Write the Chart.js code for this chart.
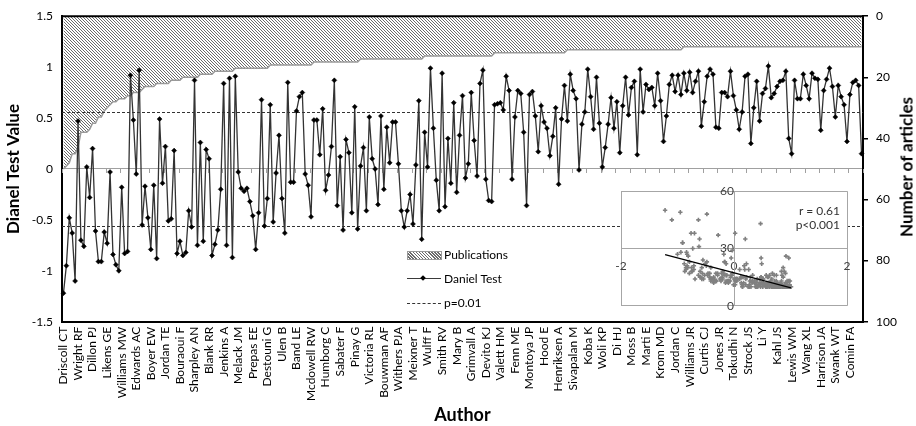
<!DOCTYPE html>
<html>
<head>
<meta charset="utf-8">
<script src="https://cdn.jsdelivr.net/npm/chart.js@4.4.0/dist/chart.umd.min.js"></script>
<style>
  html, body { margin: 0; padding: 0; background: #fff; }
  #wrap { position: relative; width: 916px; height: 426px; font-family: Lato, 'Open Sans', sans-serif; color: #000; }
  #mainChart { position: absolute; left: 0; top: 0; }
  #insetChart { position: absolute; left: 611px; top: 174px; }
  .txt { position: absolute; font-size: 12px; line-height: 14px; white-space: nowrap; }
  .sym { position: absolute; }
  #rightTitle { position: absolute; left: 906px; top: 167px; transform: translate(-50%, -50%) rotate(-90deg);
    font-size: 17px; font-weight: bold; white-space: nowrap; }
</style>
</head>
<body>
<div id="wrap">
  <canvas id="mainChart" width="916" height="426"></canvas>
  <canvas id="insetChart" width="246" height="149"></canvas>
  <div id="rightTitle">Number of articles</div>

  <!-- legend -->
  <div class="sym" style="left:407px;top:251px;width:33px;height:7px;border:1px solid #9a9a9a;
       background:repeating-linear-gradient(45deg,#fff 0 1.2px,#6b6b6b 1.2px 2.2px);"></div>
  <div class="txt" style="left:444px;top:248px;">Publications</div>
  <div class="sym" style="left:407px;top:278px;width:34px;height:0;border-top:1.2px solid #3a3a3a;"></div>
  <div class="sym" style="left:421px;top:276px;width:4px;height:4px;background:#000;transform:rotate(45deg);"></div>
  <div class="txt" style="left:444px;top:272px;">Daniel Test</div>
  <div class="sym" style="left:407px;top:303px;width:34px;height:0;border-top:1px dashed #333;"></div>
  <div class="txt" style="left:444px;top:296px;">p=0.01</div>

  <!-- inset stats -->
  <div class="txt" style="right:76px;top:204px;color:#333;">r = 0.61</div>
  <div class="txt" style="right:76px;top:218px;color:#333;">p&lt;0.001</div>
</div>
<script>
// authors shown on the axis (one every 5 categories)
var authors = ['Driscoll CT', 'Wright RF', 'Dillon PJ', 'Likens GE', 'Williams MW', 'Edwards AC', 'Boyer EW',
    'Jordan TE', 'Bouraoui F', 'Sharpley AN', 'Blank RR', 'Jenkins A', 'Melack JM', 'Prepas EE', 'Destouni G',
    'Ulen B', 'Band LE', 'Mcdowell RW', 'Humborg C', 'Sabater F', 'Pinay G', 'Victoria RL', 'Bouwman AF',
    'Withers PJA', 'Meixner T', 'Wulff F', 'Smith RV', 'Mary B', 'Grimvall A', 'Devito KJ', 'Valett HM',
    'Fenn ME', 'Montoya JP', 'Hood E', 'Henriksen A', 'Sivapalan M', 'Koba K', 'Woli KP', 'Di HJ', 'Moss B',
    'Marti E', 'Krom MD', 'Jordan C', 'Williams JR', 'Curtis CJ', 'Jones JR', 'Tokudhi N', 'Strock JS', 'Li Y',
    'Kahl JS', 'Lewis WM', 'Wang XL', 'Harrison JA', 'Swank WT', 'Comin FA'];

// Daniel test value per author
var danielTest = [
    -1.22, -0.95, -0.48, -0.63, -1.10, 0.47, -0.70, -0.76, 0.02, -0.28,
    0.20, -0.61, -0.91, -0.91, -0.62, -0.73, -0.03, -0.84, -0.94, -1.00,
    -0.18, -0.83, -0.81, 0.92, 0.48, -0.05, 0.97, -0.55, -0.17, -0.48,
    -0.79, -0.16, -0.88, 0.49, -0.14, 0.22, -0.51, -0.49, 0.18, -0.83,
    -0.71, -0.85, -0.82, -0.41, -0.57, 0.87, -0.75, 0.26, -0.71, 0.19,
    0.10, -0.85, -0.74, -0.60, -0.20, 0.84, -0.75, 0.89, -0.87, 0.91,
    -0.03, -0.19, -0.22, -0.19, -0.32, -0.46, -0.79, -0.43, 0.68, -0.56,
    -0.29, 0.63, -0.52, -0.04, 0.33, -0.29, -0.63, 0.85, -0.13, -0.13,
    0.57, 0.71, 0.75, -0.05, -0.16, -0.47, 0.48, 0.48, 0.14, 0.59,
    -0.21, -0.06, 0.22, 0.87, -0.36, 0.12, -0.60, 0.29, 0.16, -0.43,
    0.61, -0.59, 0.03, 0.21, -0.41, 0.51, 0.10, 0.00, -0.35, 0.52,
    -0.20, 0.41, 0.06, 0.46, 0.46, 0.05, -0.41, -0.57, -0.41, -0.25,
    -0.54, 0.04, 0.67, -0.69, 0.36, 0.02, 0.99, 0.40, -0.11, -0.41,
    0.94, -0.37, 0.30, -0.14, 0.65, -0.23, 0.33, 0.72, -0.09, 0.05,
    0.75, 0.28, -0.07, 0.84, 0.97, -0.10, -0.31, -0.32, 0.63, 0.64,
    0.65, 0.58, 0.91, 0.77, -0.10, 0.51, 0.77, 0.74, 0.36, -0.36,
    0.73, 0.76, 0.52, 0.17, 0.62, 0.46, 0.40, 0.13, 0.32, 0.60,
    -0.15, 0.49, 0.82, 0.47, 0.93, 0.77, 0.69, -0.01, 0.44, 0.56,
    0.98, 0.71, 0.39, 0.90, 0.45, 0.02, 0.21, 0.44, 0.70, 0.40,
    0.66, 0.16, 0.62, 0.90, 0.53, 0.80, 0.86, 0.14, 0.98, 0.56,
    0.83, 0.78, 0.80, 0.62, 0.94, 0.67, 0.27, 0.52, 0.83, 0.92,
    0.76, 0.92, 0.73, 0.94, 0.77, 0.95, 0.75, 0.86, 0.96, 0.42,
    0.66, 0.91, 0.98, 0.93, 0.41, 0.40, 0.75, 0.75, 0.71, 0.96,
    0.72, 0.58, 0.39, 0.56, 0.91, 0.93, 0.25, 0.60, 0.86, 0.47,
    0.74, 0.79, 1.01, 0.70, 0.74, 0.81, 0.86, 0.87, 0.96, 0.30,
    0.15, 0.87, 0.69, 0.69, 0.93, 0.82, 0.69, 0.94, 0.89, 0.88,
    0.38, 0.77, 0.88, 0.99, 0.81, 0.51, 0.82, 0.71, 0.63, 0.27,
    0.73, 0.85, 0.87, 0.82, 0.15];

// number of articles per author
var publications = [
    50, 49, 48, 45, 45, 43, 38, 38, 38, 37, 35, 35, 33, 33, 31, 30, 29, 28, 28, 27,
    27, 27, 26, 26, 25, 25, 25, 24, 23, 23, 23, 23, 22, 22, 22, 22, 22, 21, 21, 21,
    21, 20, 20, 20, 20, 20, 20, 19, 19, 19, 19, 19, 18, 18, 18, 18, 18, 18, 18, 17,
    17, 17, 17, 17, 17, 17, 17, 17, 17, 17, 17, 16, 16, 16, 16, 16, 16, 16, 16, 16,
    16, 16, 16, 16, 16, 16, 15, 15, 15, 15, 15, 15, 15, 15, 15, 15, 15, 15, 15, 15,
    15, 15, 14, 14, 14, 14, 14, 14, 14, 14, 14, 14, 14, 14, 14, 14, 14, 14, 14, 14,
    14, 14, 14, 14, 13, 13, 13, 13, 13, 13, 13, 13, 13, 13, 13, 13, 13, 13, 13, 13,
    13, 13, 13, 13, 13, 13, 13, 13, 12, 12, 12, 12, 12, 12, 12, 12, 12, 12, 12, 12,
    12, 12, 12, 12, 12, 12, 12, 12, 12, 12, 12, 12, 12, 11, 11, 11, 11, 11, 11, 11,
    11, 11, 11, 11, 11, 11, 11, 11, 11, 11, 11, 11, 11, 11, 11, 11, 11, 11, 11, 11,
    11, 11, 11, 11, 11, 11, 11, 11, 11, 11, 11, 11, 11, 10, 10, 10, 10, 10, 10, 10,
    10, 10, 10, 10, 10, 10, 10, 10, 10, 10, 10, 10, 10, 10, 10, 10, 10, 10, 10, 10,
    10, 10, 10, 10, 10, 10, 10, 10, 10, 10, 10, 10, 10, 10, 10, 10, 10, 10, 10, 10,
    10, 10, 10, 10, 10, 10, 10, 10, 10, 10, 10, 10, 10, 10, 10];

var leftTicks = [-1.5, -1, -0.5, 0, 0.5, 1, 1.5];
var rightTicks = [0, 20, 40, 60, 80, 100];
var insetXTicks = [-2, 0, 2];
var insetYTicks = [0, 30, 60];
var pLimit = 0.56;   // p=0.01 threshold
var labelEvery = 5;

var baseFont = { family: 'Lato, "Open Sans", sans-serif', size: 12 };

// category labels: author name every 5th position
var labels = danielTest.map(function (v, i) {
    return i % labelEvery === 0 ? authors[i / labelEvery] : '';
});

//hatched fill for the publications area
function makeHatch() {
    var c = document.createElement('canvas');
    c.width = 3;
    c.height = 3;
    var g = c.getContext('2d');
    g.strokeStyle = '#6b6b6b';
    g.lineWidth = 1;
    g.beginPath();
    g.moveTo(-1, -1); g.lineTo(4, 4);
    g.moveTo(-1, 2); g.lineTo(1, 4);
    g.moveTo(2, -1); g.lineTo(4, 1);
    g.stroke();
    return g.createPattern(c, 'repeat');
}

//threshold lines, tick marks on the zero line and the top frame
var extrasPlugin = {
    id: 'extras',
    beforeDatasetDraw: function (chart, args) {
        if (args.index !== 0) return;
        var ctx = chart.ctx, a = chart.chartArea, y = chart.scales.y;
        ctx.save();
        ctx.strokeStyle = '#333';
        ctx.lineWidth = 1;
        ctx.setLineDash([3, 2]);
        [pLimit, -pLimit].forEach(function (v) {
            var py = Math.round(y.getPixelForValue(v)) + 0.5;
            ctx.beginPath();
            ctx.moveTo(a.left, py);
            ctx.lineTo(a.right, py);
            ctx.stroke();
        });
        ctx.restore();
    },
    beforeDatasetsDraw: function (chart) {
        var ctx = chart.ctx, x = chart.scales.x, y = chart.scales.y;
        var y0 = Math.round(y.getPixelForValue(0));
        ctx.save();
        ctx.strokeStyle = '#a0a0a0';
        ctx.lineWidth = 1;
        for (var k = 0; k <= labels.length; k += labelEvery) {
            var px = Math.round(x.getPixelForValue(k - 0.5)) + 0.5;
            ctx.beginPath();
            ctx.moveTo(px, y0);
            ctx.lineTo(px, y0 + 4);
            ctx.stroke();
        }
        ctx.restore();
    },
    afterDatasetsDraw: function (chart) {
        var ctx = chart.ctx, a = chart.chartArea;
        ctx.save();
        ctx.strokeStyle = '#000';
        ctx.lineWidth = 2;
        ctx.beginPath();
        ctx.moveTo(a.left, a.top);
        ctx.lineTo(a.right, a.top);
        ctx.stroke();
        ctx.restore();
    }
};

new Chart(document.getElementById('mainChart').getContext('2d'), {
    type: 'line',
    data: {
        labels: labels,
        datasets: [{
            label: 'Daniel Test',
            data: danielTest,
            yAxisID: 'y',
            borderColor: '#333',
            borderWidth: 1.3,
            pointStyle: 'rectRot',
            pointRadius: 2.5,
            pointBackgroundColor: '#000',
            pointBorderColor: '#000',
            pointBorderWidth: 0.5,
            tension: 0,
            order: 1
        }, {
            label: 'Publications',
            data: publications,
            yAxisID: 'y2',
            borderColor: '#9a9a9a',
            borderWidth: 1.5,
            backgroundColor: makeHatch(),
            fill: { value: 0 },
            pointRadius: 0,
            tension: 0,
            order: 2
        }]
    },
    options: {
        responsive: false,
        animation: false,
        layout: { padding: { left: 0, right: 0, top: 13, bottom: 0 } },
        plugins: {
            legend: { display: false },
            tooltip: { enabled: false }
        },
        scales: {
            x: {
                type: 'category',
                offset: true,
                grid: { display: false, drawTicks: false },
                border: { color: '#000', width: 2 },
                ticks: {
                    autoSkip: false, minRotation: 90, maxRotation: 90, padding: 5,
                    color: '#000', font: baseFont
                },
                title: {
                    display: true, text: 'Author', color: '#000', padding: 0,
                    font: { family: baseFont.family, size: 18, weight: 'bold' }
                },
                afterFit: function (s) { s.height = 104.3; }
            },
            y: {
                position: 'left',
                min: -1.5,
                max: 1.5,
                afterBuildTicks: function (s) {
                    s.ticks = leftTicks.map(function (v) { return { value: v }; });
                },
                grid: {
                    drawTicks: false,
                    color: function (c) { return c.tick && c.tick.value === 0 ? '#a0a0a0' : 'transparent'; }
                },
                border: { color: '#000', width: 2 },
                ticks: {
                    padding: 9, color: '#000', font: baseFont,
                    callback: function (v) { return String(v); }
                },
                title: {
                    display: true, text: 'Dianel Test Value', color: '#000', padding: { top: 3 },
                    font: { family: baseFont.family, size: 17, weight: 'bold' }
                },
                afterFit: function (s) { s.width = 62; }
            },
            y2: {
                position: 'right',
                min: 0,
                max: 100,
                reverse: true,
                afterBuildTicks: function (s) {
                    s.ticks = rightTicks.map(function (v) { return { value: v }; });
                },
                grid: { drawOnChartArea: false, tickLength: 5, tickColor: '#000', lineWidth: 1.5 },
                border: { color: '#000', width: 2 },
                ticks: { padding: 8, color: '#000', font: baseFont },
                afterFit: function (s) { s.width = 53; }
            }
        }
    },
    plugins: [extrasPlugin]
});

// inset: publications against Daniel test value, with least squares line
var scatterPts = danielTest.map(function (v, i) { return { x: v, y: publications[i] }; });
var n = danielTest.length, mx = 0, my = 0, sxy = 0, sxx = 0;
danielTest.forEach(function (v, i) { mx += v / n; my += publications[i] / n; });
danielTest.forEach(function (v, i) { sxy += (v - mx) * (publications[i] - my); sxx += (v - mx) * (v - mx); });
var slope = sxy / sxx, icpt = my - slope * mx;
var fitLine = [Math.min.apply(null, danielTest), Math.max.apply(null, danielTest)].map(function (v) {
    return { x: v, y: icpt + slope * v };
});

var whiteBox = {
    id: 'whiteBox',
    beforeDraw: function (chart) {
        var a = chart.chartArea;
        chart.ctx.save();
        chart.ctx.fillStyle = '#fff';
        chart.ctx.fillRect(a.left, a.top, a.right - a.left, a.bottom - a.top);
        chart.ctx.restore();
    }
};

new Chart(document.getElementById('insetChart').getContext('2d'), {
    type: 'scatter',
    data: {
        datasets: [{
            data: scatterPts,
            pointStyle: 'cross',
            pointRadius: 2.2,
            borderColor: '#808080',
            backgroundColor: '#808080',
            borderWidth: 1.6,
            order: 2
        }, {
            type: 'line',
            data: fitLine,
            borderColor: '#000',
            borderWidth: 1.2,
            pointRadius: 0,
            order: 1
        }]
    },
    options: {
        responsive: false,
        animation: false,
        layout: { padding: 10 },
        plugins: { legend: { display: false }, tooltip: { enabled: false } },
        scales: {
            x: {
                type: 'linear', min: -2, max: 2, position: { y: 30 },
                afterBuildTicks: function (s) {
                    s.ticks = insetXTicks.map(function (v) { return { value: v }; });
                },
                grid: { color: '#a6a6a6', tickLength: 8, tickColor: 'transparent' },
                border: { color: '#a6a6a6' },
                ticks: { padding: 2, color: '#404040', font: baseFont }
            },
            y: {
                type: 'linear', min: 0, max: 60, position: { x: 0 },
                afterBuildTicks: function (s) {
                    s.ticks = insetYTicks.map(function (v) { return { value: v }; });
                },
                grid: { color: '#a6a6a6', tickLength: 8, tickColor: 'transparent' },
                border: { color: '#a6a6a6' },
                ticks: { padding: 10, color: '#404040', font: baseFont }
            }
        }
    },
    plugins: [whiteBox]
});
</script>
</body>
</html>
